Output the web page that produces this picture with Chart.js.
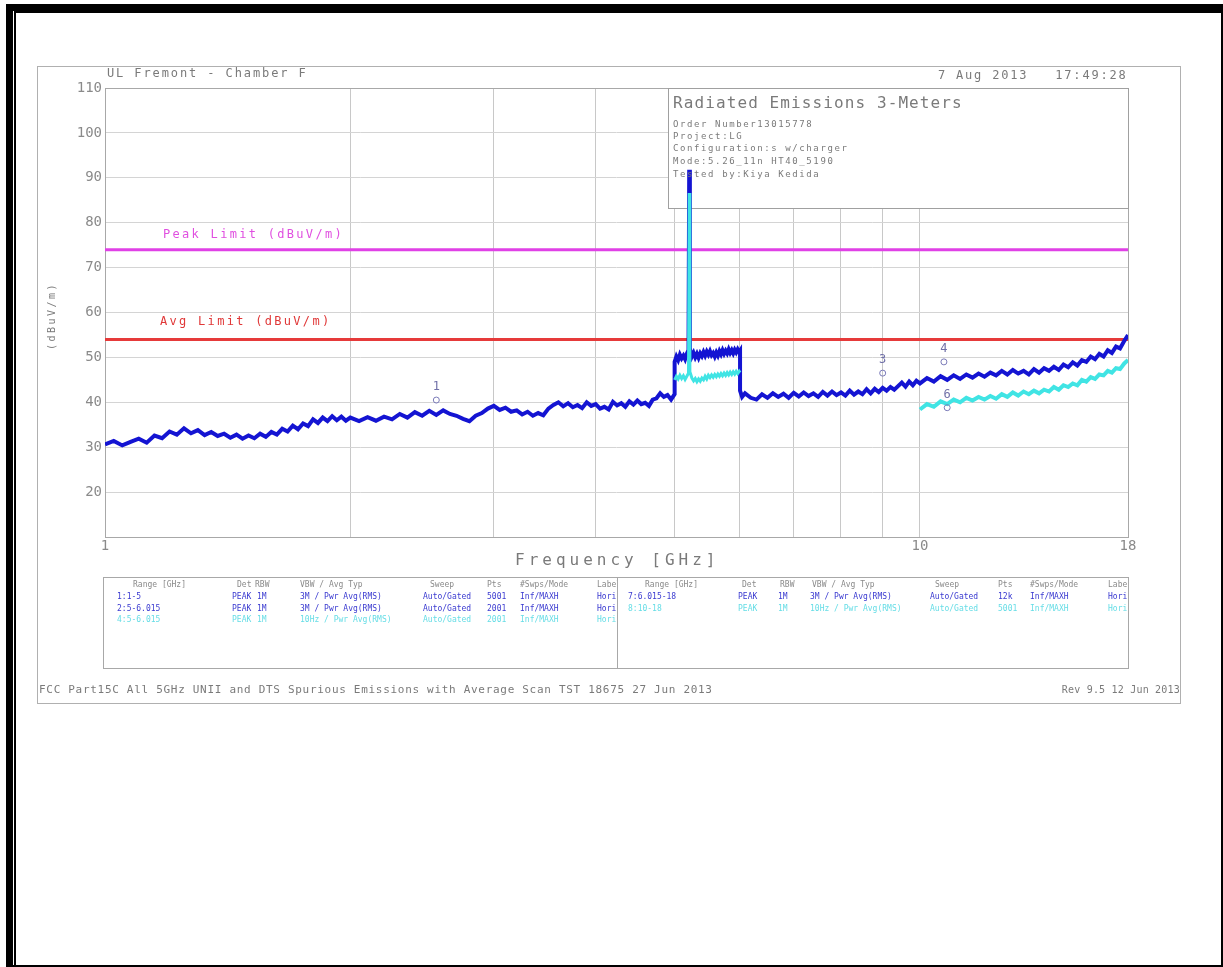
<!DOCTYPE html>
<html><head><meta charset="utf-8">
<script src="https://cdn.jsdelivr.net/npm/chart.js@4.4.0/dist/chart.umd.min.js"></script>
<style>
html,body{margin:0;padding:0;background:#fff;}
body{width:1223px;height:967px;position:relative;overflow:hidden;font-family:'DejaVu Sans Mono',monospace;}
#c{position:absolute;left:0;top:0;}
.k{position:absolute;background:#000;}
.t{position:absolute;white-space:pre;color:#7a7a7a;line-height:1;}
.frame{position:absolute;border:1px solid #b0b0b0;}
.tbl{position:absolute;overflow:hidden;}
.cell{position:absolute;white-space:pre;font-size:8px;line-height:8px;}
.mk{position:absolute;white-space:pre;font-size:12px;line-height:12px;color:#7070a8;width:12px;text-align:center;}
</style>
</head><body>
<div class="k" style="left:6px;top:4px;width:7px;height:963px"></div>
<div class="k" style="left:6px;top:4px;width:1217px;height:7px"></div>
<div class="k" style="left:14px;top:11px;width:2px;height:956px"></div>
<div class="k" style="left:14px;top:11px;width:1209px;height:2px"></div>
<div class="k" style="left:1221px;top:4px;width:2px;height:963px"></div>
<div class="k" style="left:6px;top:965px;width:1217px;height:2px"></div>
<div class="frame" style="left:37px;top:66px;width:1142px;height:636px"></div>
<canvas id="c" width="1223" height="967"></canvas>
<div class="t" style="left:107px;top:67px;font-size:12px;letter-spacing:1.9px">UL Fremont - Chamber F</div>
<div class="t" style="left:938px;top:69px;font-size:12px;letter-spacing:1.8px">7 Aug 2013   17:49:28</div>
<div class="t" style="left:673px;top:95px;font-size:16px;letter-spacing:1.1px">Radiated Emissions 3-Meters</div>
<div class="t" style="left:673px;top:120px;font-size:9px;letter-spacing:1.6px">Order Number13015778</div>
<div class="t" style="left:673px;top:132px;font-size:9px;letter-spacing:1.6px">Project:LG</div>
<div class="t" style="left:673px;top:144px;font-size:9px;letter-spacing:1.6px">Configuration:s w/charger</div>
<div class="t" style="left:673px;top:157px;font-size:9px;letter-spacing:1.6px">Mode:5.26_11n HT40_5190</div>
<div class="t" style="left:673px;top:170px;font-size:9px;letter-spacing:1.6px">Tested by:Kiya Kedida</div>
<div class="t" style="left:163px;top:228px;font-size:12px;letter-spacing:2.3px;color:#e050e0">Peak Limit (dBuV/m)</div>
<div class="t" style="left:160px;top:315px;font-size:12px;letter-spacing:2.3px;color:#e03838">Avg Limit (dBuV/m)</div>
<div class="t" style="left:515px;top:552px;font-size:16px;letter-spacing:4px">Frequency [GHz]</div>
<div class="t" style="left:16px;top:311px;width:72px;text-align:center;font-size:10px;letter-spacing:2.5px;transform:rotate(-90deg);transform-origin:36px 5px">(dBuV/m)</div>
<div class="frame" style="left:103px;top:577px;width:1024px;height:90px;border-color:#a8a8a8"></div>
<div style="position:absolute;left:617px;top:577px;width:1px;height:91px;background:#a8a8a8"></div>
<div class="tbl" id="tl" style="left:104px;top:578px;width:513px;height:89px"></div>
<div class="tbl" id="tr" style="left:618px;top:578px;width:509px;height:89px"></div>
<div class="t" style="left:39px;top:684px;font-size:11px;letter-spacing:0.7px">FCC Part15C All 5GHz UNII and DTS Spurious Emissions with Average Scan TST 18675 27 Jun 2013</div>
<div class="t" style="right:43px;top:685px;font-size:10px;letter-spacing:0.2px">Rev 9.5 12 Jun 2013</div>
<div id="marks"></div>
<script>
// ---------------- data ----------------
const xTickValues = [1,2,3,4,5,6,7,8,9,10,18];
const xTickShown = [1,10,18];
const yTickValues = [20,30,40,50,60,70,80,90,100,110];

// Blue peak trace, range 1: 1-5 GHz
const seg1Freqs = [1.000,1.025,1.050,1.075,1.100,1.125,1.150,1.175,1.200,1.225,1.250,1.275,1.300,1.325,1.350,1.375,1.400,1.425,1.450,1.475,1.500,1.525,1.550,1.575,1.600,1.625,1.650,1.675,1.700,1.725,1.750,1.775,1.800,1.825,1.850,1.875,1.900,1.925,1.950,1.975,2.000,
2.05,2.10,2.15,2.20,2.25,2.30,2.35,2.40,2.45,2.50,2.55,2.60,2.65,2.70,2.75,2.80,2.85,2.90,2.95,3.00,3.05,3.10,3.15,3.20,3.25,3.30,3.35,3.40,3.45,3.50,3.55,3.60,3.65,3.70,3.75,3.80,3.85,3.90,3.95,4.00,4.05,4.10,4.15,4.20,4.25,4.30,4.35,4.40,4.45,4.50,4.55,4.60,4.65,4.70,4.75,4.80,4.85,4.90,4.95,5.00];
const seg1Peak = [30.6,31.4,30.4,31.2,31.9,31.0,32.6,32.0,33.5,32.8,34.2,33.1,33.8,32.7,33.4,32.5,33.0,32.1,32.8,31.9,32.6,32.0,33.0,32.3,33.4,32.8,34.1,33.5,34.8,34.0,35.3,34.7,36.2,35.4,36.6,35.8,36.9,36.0,36.8,35.9,36.6,
35.8,36.7,35.9,36.8,36.2,37.4,36.6,37.8,37.0,38.1,37.2,38.2,37.4,37.0,36.3,35.8,37.0,37.6,38.6,39.2,38.3,38.8,37.9,38.2,37.3,37.9,37.0,37.6,37.1,38.6,39.4,40.0,39.1,39.8,38.9,39.4,38.7,40.0,39.2,39.6,38.6,39.0,38.4,40.1,39.3,39.8,39.0,40.2,39.5,40.4,39.6,39.9,39.2,40.6,40.9,42.0,41.2,41.6,40.6,41.8];

// Blue peak trace, range 2: 5-6.015 GHz
const seg2Freqs = [5.000,5.025,5.050,5.075,5.100,5.125,5.150,5.175,5.200,5.210,5.220,5.250,5.275,5.300,5.325,5.350,5.375,5.400,5.425,5.450,5.475,5.500,5.525,5.550,5.575,5.600,5.625,5.650,5.675,5.700,5.725,5.750,5.775,5.800,5.825,5.850,5.875,5.900,5.925,5.950,5.975,6.000,6.015];
const seg2Peak = [49.0,50.2,49.4,50.6,49.8,50.4,49.6,50.8,51.6,91.8,52.0,50.2,51.0,50.0,50.8,49.9,50.9,50.3,51.2,50.4,51.3,50.6,51.4,50.5,51.0,50.2,51.1,50.4,51.4,50.7,51.6,50.8,51.5,50.9,51.8,51.0,51.6,50.9,51.7,51.1,51.8,51.2,51.5];
// Cyan average trace, range 4: 5-6.015 GHz
const seg4Avg = [45.0,45.8,45.2,46.0,45.3,45.9,45.1,45.8,46.5,86.6,46.8,45.4,44.8,45.3,44.6,45.2,44.7,45.4,45.0,45.8,45.2,46.0,45.5,46.1,45.6,46.2,45.7,46.3,45.8,46.4,45.9,46.5,46.0,46.6,46.1,46.7,46.2,46.8,46.3,46.9,46.4,46.9,46.6];

// Blue peak trace, range 7: 6.015-18 GHz
const seg7Freqs = [6.015,6.05,6.1,6.2,6.3,6.4,6.5,6.6,6.7,6.8,6.9,7.0,7.1,7.2,7.3,7.4,7.5,7.6,7.7,7.8,7.9,8.0,8.1,8.2,8.3,8.4,8.5,8.6,8.7,8.8,8.9,9.0,9.1,9.2,9.3,9.4,9.5,9.6,9.7,9.8,9.9,10.0,
10.2,10.4,10.6,10.8,11.0,11.2,11.4,11.6,11.8,12.0,12.2,12.4,12.6,12.8,13.0,13.2,13.4,13.6,13.8,14.0,14.2,14.4,14.6,14.8,15.0,15.2,15.4,15.6,15.8,16.0,16.2,16.4,16.6,16.8,17.0,17.2,17.4,17.6,17.8,18.0];
const seg7Peak = [42.6,41.2,42.0,41.0,40.6,41.8,41.0,42.0,41.2,41.9,41.0,42.1,41.3,42.2,41.4,42.0,41.2,42.3,41.5,42.4,41.6,42.2,41.5,42.6,41.7,42.4,41.8,42.9,42.0,43.0,42.3,43.2,42.6,43.4,42.8,43.6,44.4,43.5,44.6,43.8,44.8,44.2,
45.4,44.6,45.8,45.0,46.0,45.2,46.2,45.5,46.4,45.7,46.6,46.0,47.0,46.2,47.2,46.4,47.0,46.2,47.4,46.6,47.6,47.0,47.9,47.2,48.4,47.8,48.9,48.2,49.4,49.0,50.2,49.6,50.8,50.2,51.6,51.0,52.4,52.0,53.6,55.0];

// Cyan average trace, range 8: 10-18 GHz
const seg8Freqs = [10.0,10.2,10.4,10.6,10.8,11.0,11.2,11.4,11.6,11.8,12.0,12.2,12.4,12.6,12.8,13.0,13.2,13.4,13.6,13.8,14.0,14.2,14.4,14.6,14.8,15.0,15.2,15.4,15.6,15.8,16.0,16.2,16.4,16.6,16.8,17.0,17.2,17.4,17.6,17.8,18.0];
const seg8Avg = [38.4,39.6,39.0,40.2,39.6,40.6,40.0,41.0,40.4,41.2,40.6,41.4,40.8,41.8,41.2,42.2,41.5,42.4,41.8,42.6,42.0,42.8,42.4,43.4,42.8,43.8,43.4,44.2,43.8,45.0,44.6,45.6,45.2,46.2,46.0,47.0,46.6,47.6,47.4,48.6,49.4];

// Limits
const limitFreqs = [1,18];
const peakLimit = [74,74];
const avgLimit = [54,54];

// Markers
const markerFreqs = [2.55,9.0,10.7,10.8];
const markerLevels = [40.5,46.5,49.0,38.8];
const markerLabels = ['1','3','4','6'];

// Table
const tableHeaders = ['Range [GHz]','Det','RBW','VBW / Avg Typ','Sweep','Pts','#Swps/Mode','Label'];
const leftRows = [
  ['1:1-5','PEAK','1M','3M / Pwr Avg(RMS)','Auto/Gated','5001','Inf/MAXH','Horizontal'],
  ['2:5-6.015','PEAK','1M','3M / Pwr Avg(RMS)','Auto/Gated','2001','Inf/MAXH','Horizontal'],
  ['4:5-6.015','PEAK','1M','10Hz / Pwr Avg(RMS)','Auto/Gated','2001','Inf/MAXH','Horizontal']
];
const rightRows = [
  ['7:6.015-18','PEAK','1M','3M / Pwr Avg(RMS)','Auto/Gated','12k','Inf/MAXH','Horizontal'],
  ['8:10-18','PEAK','1M','10Hz / Pwr Avg(RMS)','Auto/Gated','5001','Inf/MAXH','Horizontal']
];
const leftRowColors = ['#3a3ad0','#3a3ad0','#66dde6'];
const rightRowColors = ['#3a3ad0','#66dde6'];

// ---------------- table layout ----------------
function buildTable(el, rows, colors, hdrX, rowX){
  tableHeaders.forEach((h,i)=>{
    const d=document.createElement('div');d.className='cell';d.textContent=h;
    d.style.left=hdrX[i]+'px';d.style.top='3px';d.style.color='#8a8a8a';el.appendChild(d);
  });
  rows.forEach((r,j)=>{
    r.forEach((txt,i)=>{
      const d=document.createElement('div');d.className='cell';d.textContent=txt;
      d.style.left=rowX[i]+'px';d.style.top=(15+j*11.5)+'px';d.style.color=colors[j];el.appendChild(d);
    });
  });
}
buildTable(document.getElementById('tl'),leftRows,leftRowColors,[29,133,151,196,326,383,416,493],[13,128,153,196,319,383,416,493]);
buildTable(document.getElementById('tr'),rightRows,rightRowColors,[27,124,162,194,317,380,412,490],[10,120,160,192,312,380,412,490]);

// ---------------- chart ----------------
const xy=(fs,vs)=>fs.map((f,i)=>({x:f,y:vs[i]}));
const blueData = xy(seg1Freqs,seg1Peak).concat(xy(seg2Freqs,seg2Peak),xy(seg7Freqs,seg7Peak));

const markEls = markerLabels.map(l=>{const d=document.createElement('div');d.className='mk';d.textContent=l;document.getElementById('marks').appendChild(d);return d;});

const framePlugin={
  id:'framePlugin',
  beforeDatasetsDraw(chart){
    const ctx=chart.ctx,a=chart.chartArea;
    ctx.save();
    ctx.strokeStyle='#a8a8a8';ctx.lineWidth=1;
    ctx.strokeRect(a.left+0.5,a.top+0.5,a.right-a.left,a.bottom-a.top);
    // info box
    ctx.fillStyle='#fff';
    ctx.fillRect(668,a.top,a.right-668,120);
    ctx.strokeStyle='#a0a0a0';
    ctx.strokeRect(668.5,a.top+0.5,a.right-668,120);
    ctx.restore();
  },
  afterRender(chart){
    const xs=chart.scales.x,ys=chart.scales.y;
    markEls.forEach((d,i)=>{
      const px=xs.getPixelForValue(markerFreqs[i]),py=ys.getPixelForValue(markerLevels[i]);
      d.style.left=(px-6)+'px';d.style.top=(py-20)+'px';
    });
  }
};

new Chart(document.getElementById('c'),{
  type:'line',
  data:{datasets:[
    {label:'Avg 5-6.015',data:xy(seg2Freqs,seg4Avg),borderColor:'#40e4e4',borderWidth:3,pointRadius:0,order:1},
    {label:'Avg 10-18',data:xy(seg8Freqs,seg8Avg),borderColor:'#40e4e4',borderWidth:4,pointRadius:0,order:1},
    {label:'Peak',data:blueData,borderColor:'#1414d2',borderWidth:4,pointRadius:0,order:2},
    {label:'Peak Limit',data:xy(limitFreqs,peakLimit),borderColor:'#e040e6',borderWidth:3,pointRadius:0,order:3},
    {label:'Avg Limit',data:xy(limitFreqs,avgLimit),borderColor:'#e63a3a',borderWidth:3,pointRadius:0,order:3},
    {label:'Markers',data:xy(markerFreqs,markerLevels),showLine:false,pointRadius:3,pointStyle:'circle',borderColor:'#7a7ab8',backgroundColor:'rgba(255,255,255,0)',borderWidth:1,order:0}
  ]},
  options:{
    responsive:false,animation:false,devicePixelRatio:1,
    layout:{padding:{left:0,top:88,right:95,bottom:0}},
    plugins:{legend:{display:false},tooltip:{enabled:false}},
    elements:{line:{tension:0}},
    scales:{
      x:{type:'logarithmic',min:1,max:18,
        afterBuildTicks(s){s.ticks=xTickValues.map(v=>({value:v}));},
        afterFit(s){s.height=430;},
        ticks:{autoSkip:false,maxRotation:0,padding:1,color:'#8a8a8a',font:{family:'DejaVu Sans Mono',size:14},
          callback:(v)=>xTickShown.includes(v)?String(v):''},
        grid:{color:'#c8c8c8',lineWidth:1,drawTicks:false},
        border:{display:false}
      },
      y:{type:'linear',min:10,max:110,
        afterBuildTicks(s){s.ticks=yTickValues.map(v=>({value:v}));},
        afterFit(s){s.width=105;},
        ticks:{padding:3,color:'#8a8a8a',font:{family:'DejaVu Sans Mono',size:14},callback:(v)=>String(v)},
        grid:{color:'#d4d4d4',lineWidth:1,drawTicks:false},
        border:{display:false}
      }
    }
  },
  plugins:[framePlugin]
});
</script>
</body></html>
